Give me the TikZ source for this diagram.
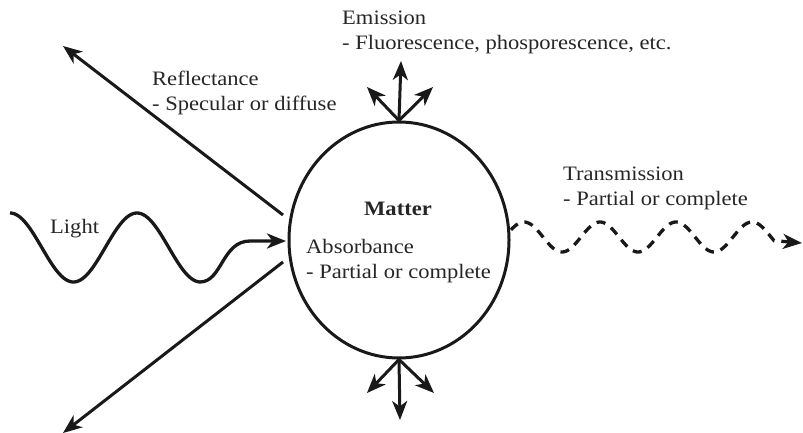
\documentclass[tikz,border=0pt]{standalone}
\usepackage{fontspec}
\setmainfont{Liberation Serif}[FakeStretch=1.1]
\usetikzlibrary{arrows.meta,shapes.geometric}
\tikzset{
  line/.style={line width=3pt, draw=black!90},
  arr/.style={line, -{Stealth[length=19pt,width=15pt,inset=5.5pt]}},
  lbl/.style={anchor=base west, inner sep=0pt, font=\fontsize{20.5}{25}\selectfont, text=black!85},
}
\begin{document}
\begin{tikzpicture}[x=1pt,y=-1pt]
\useasboundingbox (0,0) rectangle (803,433);
% matter
\node[ellipse, line, minimum width=220pt, minimum height=236pt, inner sep=0pt] (m) at (399,240) {};
\node[anchor=base, inner sep=0pt, font=\fontsize{20.5}{25}\selectfont\bfseries, text=black!85] (mt) at (398,215) {Matter};
\node[lbl] (ab1) at (306,253) {Absorbance};
\node[lbl] (ab2) at (306,278) {- Partial or complete};
% emission
\coordinate (eu) at (401,61);
\coordinate (el) at (367,87);
\coordinate (er) at (433,87);
\draw[arr] (m.north) -- (eu);
\draw[arr] (m.north) -- (el);
\draw[arr] (m.north) -- (er);
\node[lbl] (em1) at (342,25) {Emission};
\node[lbl] (em2) at (342,50) {- Fluorescence, phosporescence, etc.};
% bottom
\coordinate (bd) at (400,420);
\coordinate (bl) at (367,393);
\coordinate (br) at (434,393);
\draw[arr] (m.south) -- (bd);
\draw[arr] (m.south) -- (bl);
\draw[arr] (m.south) -- (br);
% reflectance
\coordinate (r0) at (283,215);
\coordinate (r1) at (63,46);
\draw[arr] (r0) -- (r1);
\coordinate (s0) at (283,262);
\coordinate (s1) at (63,433);
\draw[arr] (s0) -- (s1);
\node[lbl] (rf1) at (152,86) {Reflectance};
\node[lbl] (rf2) at (152,111) {- Specular or diffuse};
% light
\coordinate (lt) at (286,241);
\draw[arr, line width=3.3pt] plot[domain=10:200, samples=120, smooth] (\x, {247.5-34.5*cos((\x-10)*2.8346)})
  .. controls (222,282) and (222,241) .. (250,241) -- (lt);
\node[lbl] (li) at (50,233) {Light};
% transmission
\coordinate (tt) at (802,243);
\draw[arr, line width=3.3pt, dash pattern=on 9pt off 7pt] plot[domain=511:774, samples=150, smooth] (\x, {237-15*cos((\x-524)*4.7368)}) -- (tt);
\node[lbl] (tr1) at (563,180) {Transmission};
\node[lbl] (tr2) at (563,205) {- Partial or complete};
\end{tikzpicture}
\end{document}
